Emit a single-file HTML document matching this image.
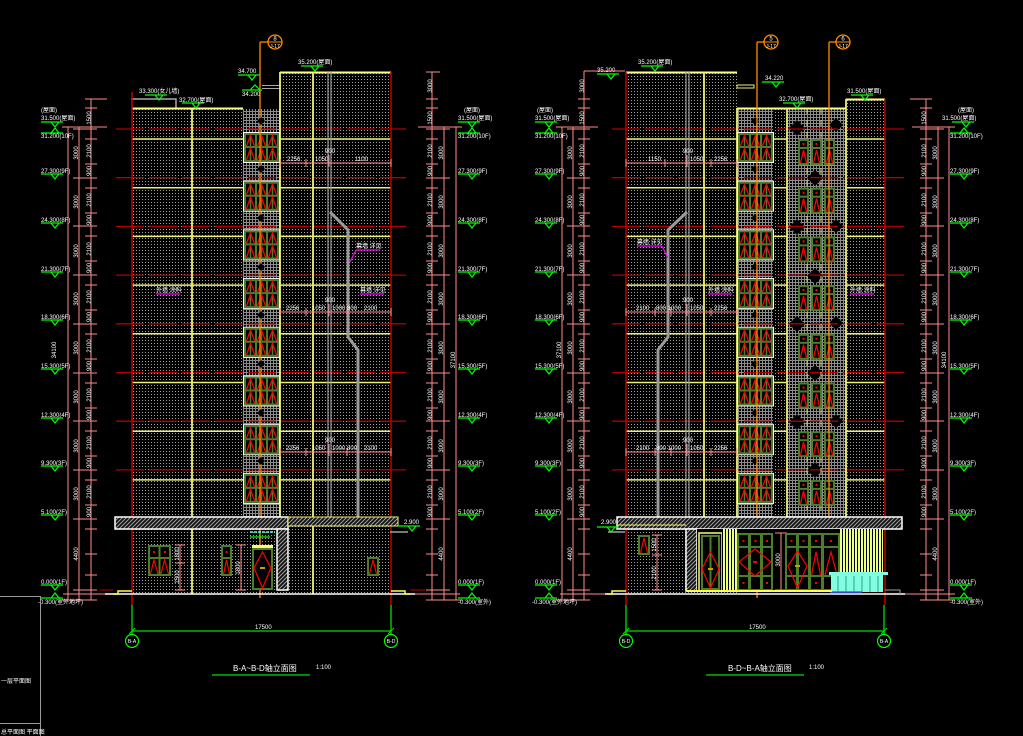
<!DOCTYPE html>
<html><head><meta charset="utf-8">
<style>
html,body{margin:0;padding:0;background:#000;}
svg{display:block;}
.t{fill:#fff;font-size:6.5px;font-family:"Liberation Sans","Noto Sans CJK SC",sans-serif;}
.s{fill:#fff;font-size:6px;font-family:"Liberation Sans","Noto Sans CJK SC",sans-serif;}
.v{fill:#fff;font-size:6px;font-family:"Liberation Sans",sans-serif;text-anchor:middle;}
.ttl{fill:#fff;font-size:8px;font-family:"Liberation Sans","Noto Sans CJK SC",sans-serif;}
.ax{fill:#fff;font-size:5px;font-family:"Liberation Sans",sans-serif;text-anchor:middle;}
</style></head>
<body>
<svg width="1023" height="736" viewBox="0 0 1023 736" xmlns="http://www.w3.org/2000/svg" xmlns:xlink="http://www.w3.org/1999/xlink">
<defs>
<pattern id="dots" width="3" height="3" patternUnits="userSpaceOnUse"><rect x="1" y="1" width="1" height="1" fill="#a0a0a0"/></pattern>
<pattern id="hatch" width="3" height="3" patternUnits="userSpaceOnUse"><rect width="3" height="3" fill="#000"/><path d="M0 .5H3M.5 0V3" stroke="#8c8c8c" stroke-width="1"/></pattern>
<pattern id="diag" width="4" height="4" patternUnits="userSpaceOnUse"><rect width="4" height="4" fill="#111"/><path d="M0 4L4 0M-1 1L1 -1M3 5L5 3" stroke="#a0a0a0" stroke-width="1"/></pattern>
<pattern id="ys" width="3" height="3" patternUnits="userSpaceOnUse"><rect width="3" height="3" fill="#000"/><rect width="2" height="3" fill="#e8ff88"/></pattern>
<g id="sw">
<rect x="0.5" y="0.5" width="36" height="30" fill="#000" stroke="#fff" stroke-width="1"/>
<path d="M1 1h35v2H1zM1 14h35v2H1zM1 28h35v2H1zM1 1h2v29H1zM12 1h2v29h-2zM23 1h2v29h-2zM34 1h2v29h-2z" fill="#4b7d2b"/>
<path d="M7.5 4v10M18.5 4v10M29.5 4v10M7.5 17v11M18.5 17v11M29.5 17v11" stroke="#4b7d2b" stroke-width="1.5"/>
<path d="M3.5 14L7.5 3.5L11.5 14M14.5 14L18.5 3.5L22.5 14M25.5 14L29.5 3.5L33.5 14M3.5 28L7.5 16.5L11.5 28M14.5 28L18.5 16.5L22.5 28M25.5 28L29.5 16.5L33.5 28" stroke="#ff0000" stroke-width="1.3" fill="none"/>
</g>
<g id="mw">
<rect x="0" y="0" width="11" height="26" fill="#4b7d2b"/>
<rect x="2" y="2" width="7" height="6" fill="#000"/>
<rect x="4.5" y="4" width="2" height="2" fill="#f00"/>
<rect x="2" y="10" width="7" height="14" fill="#000"/>
<path d="M2.5 24L5.5 11L8.5 24" stroke="#f00" stroke-width="1.3" fill="none"/>
</g>
<g id="lm"><path d="M0 0h22M10 0l4 5l4-5" stroke="#00ff00" stroke-width="1.2" fill="none"/></g>
<g id="dOut"><path d="M6 99V600M0 99h12M0 108h12M0 129h12M0 139h12M0 164h12M0 178h12M0 188h12M0 213h12M0 226h12M0 236h12M0 261h12M0 275h12M0 285h12M0 310h12M0 324h12M0 334h12M0 359h12M0 373h12M0 383h12M0 408h12M0 421h12M0 431h12M0 456h12M0 470h12M0 480h12M0 505h12M0 519h12M0 529h12M0 554h12M0 575h12M0 590h12M0 600h12" stroke="#ff8c8c" stroke-width="1" fill="none"/></g>
<g id="dMid"><path d="M6 127V600M0 129h12M0 178h12M0 226h12M0 275h12M0 324h12M0 373h12M0 421h12M0 470h12M0 519h12M0 590h12M0 600h12" stroke="#ff8c8c" stroke-width="1" fill="none"/></g>
<g id="dFar"><path d="M6 127V600M0 127h12M0 600h12" stroke="#ff8c8c" stroke-width="1" fill="none"/></g>
</defs>
<rect width="1023" height="736" fill="#000"/>

<!-- ================= LEFT ELEVATION ================= -->
<rect x="132" y="108" width="111" height="486" fill="url(#dots)"/>
<rect x="280" y="72" width="111" height="522" fill="url(#dots)"/>
<rect x="243" y="109" width="37" height="408" fill="url(#hatch)"/>
<rect x="243" y="529" width="37" height="65" fill="url(#dots)"/>
<path d="M116 129H406M116 177.7H406M116 226.4H406M116 275.1H406M116 323.8H406M116 372.5H406M116 421.2H406M116 469.9H406" stroke="#b00000" stroke-width="1.3" stroke-dasharray="28 5" fill="none"/>
<path d="M131 99H176V108" stroke="#a8a8a8" stroke-width="1.5" fill="none"/>
<path d="M262 85.5H280M262 88.5H280" stroke="#a8a8a8" stroke-width="1" fill="none"/>
<path d="M132 108.5H243M280 72.5H391" stroke="#ffff80" stroke-width="2" fill="none"/>
<path d="M132 139H243M280 139H391M132 187.7H243M280 187.7H391M132 236.4H243M280 236.4H391M132 285.1H243M280 285.1H391M132 333.8H243M280 333.8H391M132 382.5H243M280 382.5H391M132 431.2H243M280 431.2H391M132 479.9H243M280 479.9H391" stroke="#e8f070" stroke-width="1.5" fill="none"/>
<path d="M192 108V594M313 72V594M280 72V517" stroke="#f0f070" stroke-width="1.8" fill="none"/>
<path d="M132 92V605M391 72V605" stroke="#c00000" stroke-width="1.5" fill="none"/>
<path d="M328 72V517M331 72V517" stroke="#9a9a9a" stroke-width="1.2" fill="none"/>
<path d="M330 212L348 230V337L358 350V517" stroke="#9a9a9a" stroke-width="3" fill="none"/>
<use xlink:href="#sw" x="243" y="132"/>
<use xlink:href="#sw" x="243" y="180.7"/>
<use xlink:href="#sw" x="243" y="229.4"/>
<use xlink:href="#sw" x="243" y="278.1"/>
<use xlink:href="#sw" x="243" y="326.8"/>
<use xlink:href="#sw" x="243" y="375.5"/>
<use xlink:href="#sw" x="243" y="424.2"/>
<use xlink:href="#sw" x="243" y="472.9"/>
<path d="M280 163H391M280 159v8M306 159v8M329 155v12M391 159v8M280 312H391M280 308v8M306 308v8M329 304v12M347 308v8M391 308v8M280 452H391M280 448v8M306 448v8M329 444v12M347 448v8M391 448v8" stroke="#ff8c8c" stroke-width="1" fill="none"/>
<text class="s" x="287" y="161">2256</text><text class="s" x="315" y="161">1050</text><text class="s" x="355" y="161">1100</text><text class="s" x="325" y="153">900</text>
<text class="s" x="286" y="310">2256</text><text class="s" x="312" y="310">1050</text><text class="s" x="332" y="310">1000 800</text><text class="s" x="364" y="310">2100</text><text class="s" x="325" y="302">900</text>
<text class="s" x="286" y="450">2256</text><text class="s" x="312" y="450">1050</text><text class="s" x="332" y="450">1000 800</text><text class="s" x="364" y="450">2100</text><text class="s" x="325" y="442">900</text>
<text class="s" x="356" y="248">幕墙 详见</text><path d="M356 250H380M356 250L350 262" stroke="#ff00ff" stroke-width="1.2" fill="none"/>
<text class="s" x="360" y="292">幕墙 详见</text><path d="M360 294H384" stroke="#ff00ff" stroke-width="1.2"/>
<text class="s" x="156" y="292">外墙 涂料</text><path d="M156 294H180" stroke="#ff00ff" stroke-width="1.2"/>
<path d="M260 42H268M260 42V598" stroke="#ff8c00" stroke-width="1.3" fill="none"/>
<circle cx="275" cy="42" r="7" fill="#000" stroke="#ff8c00" stroke-width="1.3"/>
<path d="M268 42H282" stroke="#ff8c00" stroke-width="1"/>
<text class="ax" x="275" y="40.5" style="font-size:6px">8</text><text class="ax" x="275" y="48">J-17</text>
<use xlink:href="#lm" x="145" y="95"/><text class="s" x="139" y="93">33.300(女儿墙)</text>
<use xlink:href="#lm" x="182" y="103"/><text class="s" x="179" y="102">32.700(屋面)</text>
<use xlink:href="#lm" x="238" y="75"/><text class="s" x="238" y="73">34.700</text>
<path d="M242 90H262M250 90l5-5l5 5" stroke="#00ff00" stroke-width="1.2" fill="none"/><text class="s" x="242" y="96">34.200</text>
<use xlink:href="#lm" x="301" y="66"/><text class="s" x="298" y="64">35.200(屋面)</text>
<rect x="115" y="517" width="173" height="12" fill="url(#diag)" stroke="#fff" stroke-width="1.5"/>
<rect x="288" y="517" width="110" height="9" fill="url(#diag)" stroke="#f0f070" stroke-width="1"/>
<rect x="277" y="529" width="11" height="61" fill="url(#diag)" stroke="#fff" stroke-width="1.5"/>
<use xlink:href="#lm" x="398" y="526"/><text class="s" x="404" y="524">2.900</text>
<path d="M390 532H408" stroke="#a0a0a0" stroke-width="1.5"/>
<path d="M250 532H275" stroke="#60ffe0" stroke-width="1.5" stroke-dasharray="3 1"/><path d="M250 537H270" stroke="#00ff00" stroke-width="1.2"/>
<rect x="148" y="545" width="23" height="31" fill="#4b7d2b"/>
<rect x="150" y="547" width="8.5" height="10" fill="#000"/><rect x="160.5" y="547" width="8.5" height="10" fill="#000"/>
<rect x="150" y="559" width="8.5" height="15" fill="#000"/><rect x="160.5" y="559" width="8.5" height="15" fill="#000"/>
<rect x="153" y="551" width="2" height="2" fill="#f00"/><rect x="164" y="551" width="2" height="2" fill="#f00"/>
<path d="M150.5 574L154 560L158 574M161 574L164.5 560L168.5 574" stroke="#f00" stroke-width="1.2" fill="none"/>
<rect x="221" y="545" width="11" height="31" fill="#4b7d2b"/>
<rect x="223" y="547" width="7" height="10" fill="#000"/><rect x="223" y="559" width="7" height="15" fill="#000"/>
<rect x="225.5" y="551" width="2" height="2" fill="#f00"/>
<path d="M223.5 574L226.5 560L229.5 574" stroke="#f00" stroke-width="1.2" fill="none"/>
<rect x="252" y="545" width="21" height="3" fill="#ffff60"/>
<rect x="252" y="548" width="21" height="42" fill="#4b7d2b"/>
<rect x="254" y="550" width="17" height="38" fill="#000"/>
<path d="M262.5 552L271 568L262.5 588L254 568Z" stroke="#f00" stroke-width="1.2" fill="none"/>
<rect x="260" y="567" width="5" height="2" fill="#d0a000"/>
<rect x="367" y="557" width="12" height="19" fill="#4b7d2b"/>
<rect x="369" y="559" width="8" height="15" fill="#000"/>
<path d="M369.5 574L373 560L376.5 574" stroke="#f00" stroke-width="1.2" fill="none"/>
<path d="M180 545V590M175 545h10M175 563h10M175 590h10M241 545V590M236 545h10M236 590h10" stroke="#ff8c8c" stroke-width="1" fill="none"/>
<text class="v" transform="translate(179,554) rotate(-90)">1800</text>
<text class="v" transform="translate(179,577) rotate(-90)">1500</text>
<text class="v" transform="translate(240,568) rotate(-90)">1800</text>
<path d="M105 594H415" stroke="#fff" stroke-width="1.5"/>
<path d="M63 594H105M415 594H460" stroke="#ff8c8c" stroke-width="1"/>
<path d="M113 594H118V591H132M391 591H405V594H410" stroke="#ffff40" stroke-width="1.5" fill="none"/>
<path d="M100 590H113M410 590H425" stroke="#c00000" stroke-width="1"/>
<use xlink:href="#dFar" x="62" y="0"/>
<use xlink:href="#dMid" x="73" y="0"/>
<use xlink:href="#dOut" x="85" y="0"/>
<path d="M86 99H107M63 127H107" stroke="#ff8c8c" stroke-width="1" fill="none"/>
<use xlink:href="#dOut" x="426" y="0"/>
<use xlink:href="#dMid" x="438" y="0"/>
<use xlink:href="#dFar" x="450" y="0"/>
<path d="M432 72V99M426 72h14M418 127H460" stroke="#ff8c8c" stroke-width="1" fill="none"/>
<g>
<text class="v" transform="translate(78,153) rotate(-90)">3000</text><text class="v" transform="translate(78,202) rotate(-90)">3000</text><text class="v" transform="translate(78,251) rotate(-90)">3000</text><text class="v" transform="translate(78,299) rotate(-90)">3000</text><text class="v" transform="translate(78,348) rotate(-90)">3000</text><text class="v" transform="translate(78,397) rotate(-90)">3000</text><text class="v" transform="translate(78,446) rotate(-90)">3000</text><text class="v" transform="translate(78,494) rotate(-90)">3000</text><text class="v" transform="translate(78,554) rotate(-90)">4400</text>
<text class="v" transform="translate(91,151) rotate(-90)">2100</text><text class="v" transform="translate(91,200) rotate(-90)">2100</text><text class="v" transform="translate(91,249) rotate(-90)">2100</text><text class="v" transform="translate(91,297) rotate(-90)">2100</text><text class="v" transform="translate(91,346) rotate(-90)">2100</text><text class="v" transform="translate(91,395) rotate(-90)">2100</text><text class="v" transform="translate(91,443) rotate(-90)">2100</text><text class="v" transform="translate(91,492) rotate(-90)">2100</text>
<text class="v" transform="translate(91,171) rotate(-90)">900</text><text class="v" transform="translate(91,220) rotate(-90)">900</text><text class="v" transform="translate(91,268) rotate(-90)">900</text><text class="v" transform="translate(91,317) rotate(-90)">900</text><text class="v" transform="translate(91,366) rotate(-90)">900</text><text class="v" transform="translate(91,415) rotate(-90)">900</text><text class="v" transform="translate(91,463) rotate(-90)">900</text><text class="v" transform="translate(91,512) rotate(-90)">900</text>
<text class="v" transform="translate(91,118) rotate(-90)">1500</text><text class="v" transform="translate(56,350) rotate(-90)">34100</text>
</g>
<g>
<text class="v" transform="translate(443,153) rotate(-90)">3000</text><text class="v" transform="translate(443,202) rotate(-90)">3000</text><text class="v" transform="translate(443,251) rotate(-90)">3000</text><text class="v" transform="translate(443,299) rotate(-90)">3000</text><text class="v" transform="translate(443,348) rotate(-90)">3000</text><text class="v" transform="translate(443,397) rotate(-90)">3000</text><text class="v" transform="translate(443,446) rotate(-90)">3000</text><text class="v" transform="translate(443,494) rotate(-90)">3000</text><text class="v" transform="translate(443,554) rotate(-90)">4400</text>
<text class="v" transform="translate(432,151) rotate(-90)">2100</text><text class="v" transform="translate(432,200) rotate(-90)">2100</text><text class="v" transform="translate(432,249) rotate(-90)">2100</text><text class="v" transform="translate(432,297) rotate(-90)">2100</text><text class="v" transform="translate(432,346) rotate(-90)">2100</text><text class="v" transform="translate(432,395) rotate(-90)">2100</text><text class="v" transform="translate(432,443) rotate(-90)">2100</text><text class="v" transform="translate(432,492) rotate(-90)">2100</text>
<text class="v" transform="translate(432,171) rotate(-90)">900</text><text class="v" transform="translate(432,220) rotate(-90)">900</text><text class="v" transform="translate(432,268) rotate(-90)">900</text><text class="v" transform="translate(432,317) rotate(-90)">900</text><text class="v" transform="translate(432,366) rotate(-90)">900</text><text class="v" transform="translate(432,415) rotate(-90)">900</text><text class="v" transform="translate(432,463) rotate(-90)">900</text><text class="v" transform="translate(432,512) rotate(-90)">900</text>
<text class="v" transform="translate(432,86) rotate(-90)">3000</text><text class="v" transform="translate(432,118) rotate(-90)">1500</text><text class="v" transform="translate(455,360) rotate(-90)">37100</text>
</g>
<g>
<text class="s" x="41" y="112">(屋面)</text><text class="s" x="41" y="120">31.500(屋面)</text><use xlink:href="#lm" x="41" y="122"/>
<text class="s" x="41" y="138">31.200(10F)</text><path d="M41 133h22M51 133l4-5l4 5" stroke="#00ff00" stroke-width="1.2" fill="none"/>
<text class="s" x="41" y="173">27.300(9F)</text><use xlink:href="#lm" x="41" y="174"/>
<text class="s" x="41" y="222">24.300(8F)</text><use xlink:href="#lm" x="41" y="223"/>
<text class="s" x="41" y="271">21.300(7F)</text><use xlink:href="#lm" x="41" y="272"/>
<text class="s" x="41" y="319">18.300(6F)</text><use xlink:href="#lm" x="41" y="320"/>
<text class="s" x="41" y="368">15.300(5F)</text><use xlink:href="#lm" x="41" y="369"/>
<text class="s" x="41" y="417">12.300(4F)</text><use xlink:href="#lm" x="41" y="418"/>
<text class="s" x="41" y="465">9.300(3F)</text><use xlink:href="#lm" x="41" y="466"/>
<text class="s" x="41" y="514">5.100(2F)</text><use xlink:href="#lm" x="41" y="515"/>
<text class="s" x="41" y="584">0.000(1F)</text><use xlink:href="#lm" x="41" y="585"/>
<text class="s" x="38" y="604">-0.300(室外地坪)</text><path d="M41 598h22M51 598l4-5l4 5" stroke="#00ff00" stroke-width="1.2" fill="none"/>
</g>
<g>
<text class="s" x="464" y="112">(屋面)</text><text class="s" x="458" y="120">31.500(屋面)</text><use xlink:href="#lm" x="458" y="122"/>
<text class="s" x="458" y="138">31.200(10F)</text><path d="M458 133h22M468 133l4-5l4 5" stroke="#00ff00" stroke-width="1.2" fill="none"/>
<text class="s" x="458" y="173">27.300(9F)</text><use xlink:href="#lm" x="458" y="174"/>
<text class="s" x="458" y="222">24.300(8F)</text><use xlink:href="#lm" x="458" y="223"/>
<text class="s" x="458" y="271">21.300(7F)</text><use xlink:href="#lm" x="458" y="272"/>
<text class="s" x="458" y="319">18.300(6F)</text><use xlink:href="#lm" x="458" y="320"/>
<text class="s" x="458" y="368">15.300(5F)</text><use xlink:href="#lm" x="458" y="369"/>
<text class="s" x="458" y="417">12.300(4F)</text><use xlink:href="#lm" x="458" y="418"/>
<text class="s" x="458" y="465">9.300(3F)</text><use xlink:href="#lm" x="458" y="466"/>
<text class="s" x="458" y="514">5.100(2F)</text><use xlink:href="#lm" x="458" y="515"/>
<text class="s" x="458" y="584">0.000(1F)</text><use xlink:href="#lm" x="458" y="585"/>
<text class="s" x="458" y="604">-0.300(室外)</text><path d="M458 598h22M468 598l4-5l4 5" stroke="#00ff00" stroke-width="1.2" fill="none"/>
</g>
<path d="M132 605V634M391 605V634M132 631H391" stroke="#00e000" stroke-width="1.3" fill="none"/>
<path d="M129 634l6-6M388 634l6-6" stroke="#00e000" stroke-width="1"/>
<circle cx="132" cy="641" r="6.5" fill="#000" stroke="#00ff00" stroke-width="1.2"/><text class="ax" x="132" y="643">B-A</text>
<circle cx="391" cy="641" r="6.5" fill="#000" stroke="#00ff00" stroke-width="1.2"/><text class="ax" x="391" y="643">B-D</text>
<text class="s" x="255" y="629">17500</text>
<text class="ttl" x="233" y="671">B-A~B-D轴立面图</text><text class="s" x="316" y="669">1:100</text>
<path d="M212 675H310" stroke="#00e000" stroke-width="1.3"/>

<!-- ================= RIGHT ELEVATION ================= -->
<rect x="626" y="72" width="111" height="522" fill="url(#dots)"/>
<rect x="737" y="108" width="36" height="409" fill="url(#hatch)"/>
<rect x="773" y="108" width="73" height="409" fill="url(#hatch)"/>
<rect x="773" y="108" width="14" height="409" fill="#000"/>
<rect x="773" y="108" width="14" height="409" fill="url(#dots)"/>
<rect x="846" y="99" width="39" height="418" fill="url(#dots)"/>
<g fill="#000">
<path d="M797 120l8 8l-8 8l-8-8zM836 118l7 7l-7 7l-7-7zM815 170l8 8l-8 8l-8-8zM797 219l8 8l-8 8l-8-8zM836 219l7 7l-7 7l-7-7zM815 268l8 8l-8 8l-8-8zM797 316l8 8l-8 8l-8-8zM836 316l7 7l-7 7l-7-7zM815 365l8 8l-8 8l-8-8zM797 414l8 8l-8 8l-8-8zM836 414l7 7l-7 7l-7-7zM815 462l8 8l-8 8l-8-8z"/>
<path d="M755 117l4 4l-4 4l-4-4zM755 165l4 4l-4 4l-4-4zM755 214l4 4l-4 4l-4-4zM755 263l4 4l-4 4l-4-4zM755 311l4 4l-4 4l-4-4zM755 360l4 4l-4 4l-4-4zM755 409l4 4l-4 4l-4-4zM755 457l4 4l-4 4l-4-4z"/>
<path d="M261 117l4 4l-4 4l-4-4zM261 165l4 4l-4 4l-4-4zM261 214l4 4l-4 4l-4-4zM261 263l4 4l-4 4l-4-4zM261 311l4 4l-4 4l-4-4zM261 360l4 4l-4 4l-4-4zM261 409l4 4l-4 4l-4-4zM261 457l4 4l-4 4l-4-4z"/>
</g>
<path d="M612 129H905M612 177.7H905M612 226.4H905M612 275.1H905M612 323.8H905M612 372.5H905M612 421.2H905M612 469.9H905" stroke="#b00000" stroke-width="1.3" stroke-dasharray="28 5" fill="none"/>
<path d="M626 72.5H737M737 108.5H846M846 99.5H885" stroke="#ffff80" stroke-width="2" fill="none"/>
<rect x="737" y="85" width="17" height="3" fill="none" stroke="#f0f070" stroke-width="1"/>
<path d="M626 139H737M773 139H787M846 139H885M626 187.7H737M773 187.7H787M846 187.7H885M626 236.4H737M773 236.4H787M846 236.4H885M626 285.1H737M773 285.1H787M846 285.1H885M626 333.8H737M773 333.8H787M846 333.8H885M626 382.5H737M773 382.5H787M846 382.5H885M626 431.2H737M773 431.2H787M846 431.2H885M626 479.9H737M773 479.9H787M846 479.9H885" stroke="#e8f070" stroke-width="1.5" fill="none"/>
<path d="M704 72V517M737 108V517M787 108V517M846 99V517" stroke="#f0f070" stroke-width="1.8" fill="none"/>
<path d="M807 108V517M821 108V517" stroke="#d8e070" stroke-width="1" stroke-dasharray="6 6" fill="none"/>
<path d="M626 72V605M885 99V605" stroke="#c00000" stroke-width="1.5" fill="none"/>
<path d="M686 72V517M689 72V517" stroke="#9a9a9a" stroke-width="1.2" fill="none"/>
<path d="M687 212L668 230V337L658 350V517" stroke="#9a9a9a" stroke-width="3" fill="none"/>
<use xlink:href="#sw" x="737" y="132"/>
<use xlink:href="#sw" x="737" y="180.7"/>
<use xlink:href="#sw" x="737" y="229.4"/>
<use xlink:href="#sw" x="737" y="278.1"/>
<use xlink:href="#sw" x="737" y="326.8"/>
<use xlink:href="#sw" x="737" y="375.5"/>
<use xlink:href="#sw" x="737" y="424.2"/>
<use xlink:href="#sw" x="737" y="472.9"/>
<g>
<use xlink:href="#mw" x="798" y="139"/><use xlink:href="#mw" x="811" y="139"/><use xlink:href="#mw" x="824" y="139"/>
<use xlink:href="#mw" x="798" y="187.7"/><use xlink:href="#mw" x="811" y="187.7"/><use xlink:href="#mw" x="824" y="187.7"/>
<use xlink:href="#mw" x="798" y="236.4"/><use xlink:href="#mw" x="811" y="236.4"/><use xlink:href="#mw" x="824" y="236.4"/>
<use xlink:href="#mw" x="798" y="285.1"/><use xlink:href="#mw" x="811" y="285.1"/><use xlink:href="#mw" x="824" y="285.1"/>
<use xlink:href="#mw" x="798" y="333.8"/><use xlink:href="#mw" x="811" y="333.8"/><use xlink:href="#mw" x="824" y="333.8"/>
<use xlink:href="#mw" x="798" y="382.5"/><use xlink:href="#mw" x="811" y="382.5"/><use xlink:href="#mw" x="824" y="382.5"/>
<use xlink:href="#mw" x="798" y="431.2"/><use xlink:href="#mw" x="811" y="431.2"/><use xlink:href="#mw" x="824" y="431.2"/>
<use xlink:href="#mw" x="798" y="479.9"/><use xlink:href="#mw" x="811" y="479.9"/><use xlink:href="#mw" x="824" y="479.9"/>
</g>
<path d="M626 163H737M626 159v8M665 159v8M687 155v12M711 159v8M737 159v8M626 312H737M626 308v8M655 308v8M671 308v8M687 304v12M711 308v8M737 308v8M626 452H737M626 448v8M655 448v8M671 448v8M687 444v12M711 448v8M737 448v8" stroke="#ff8c8c" stroke-width="1" fill="none"/>
<text class="s" x="648" y="161">1150</text><text class="s" x="690" y="161">1050</text><text class="s" x="714" y="161">2256</text><text class="s" x="683" y="153">900</text>
<text class="s" x="636" y="310">2100</text><text class="s" x="656" y="310">800 1000</text><text class="s" x="690" y="310">1050</text><text class="s" x="714" y="310">2256</text><text class="s" x="683" y="302">900</text>
<text class="s" x="636" y="450">2100</text><text class="s" x="656" y="450">800 1000</text><text class="s" x="690" y="450">1050</text><text class="s" x="714" y="450">2256</text><text class="s" x="683" y="442">900</text>
<text class="s" x="637" y="244">幕墙 详见</text><path d="M637 246H662M662 246L668 258" stroke="#ff00ff" stroke-width="1.2" fill="none"/>
<text class="s" x="708" y="292">外墙 涂料</text><path d="M708 294H732" stroke="#ff00ff" stroke-width="1.2"/>
<text class="s" x="850" y="292">外墙 涂料</text><path d="M850 294H874" stroke="#ff00ff" stroke-width="1.2"/>
<path d="M757 42H764M757 42V598M829 42H836M829 42V530" stroke="#ff8c00" stroke-width="1.3" fill="none"/>
<circle cx="771" cy="42" r="7" fill="#000" stroke="#ff8c00" stroke-width="1.3"/><path d="M764 42H778" stroke="#ff8c00" stroke-width="1"/>
<text class="ax" x="771" y="40.5" style="font-size:6px">5</text><text class="ax" x="771" y="48">J-17</text>
<circle cx="843" cy="42" r="7" fill="#000" stroke="#ff8c00" stroke-width="1.3"/><path d="M836 42H850" stroke="#ff8c00" stroke-width="1"/>
<text class="ax" x="843" y="40.5" style="font-size:6px">6</text><text class="ax" x="843" y="48">J-17</text>
<use xlink:href="#lm" x="597" y="74"/><text class="s" x="597" y="72">35.200</text>
<use xlink:href="#lm" x="641" y="66"/><text class="s" x="638" y="64">35.200(屋面)</text>
<use xlink:href="#lm" x="762" y="82"/><text class="s" x="765" y="80">34.220</text>
<use xlink:href="#lm" x="783" y="103"/><text class="s" x="779" y="101">32.700(屋面)</text>
<use xlink:href="#lm" x="851" y="95"/><text class="s" x="847" y="93">31.500(屋面)</text>
<rect x="617" y="517" width="285" height="12" fill="url(#diag)" stroke="#fff" stroke-width="1.5"/>
<path d="M618 525H686" stroke="#f0f070" stroke-width="1"/>
<rect x="686" y="529" width="11" height="62" fill="url(#diag)" stroke="#fff" stroke-width="1.5"/>
<use xlink:href="#lm" x="597" y="527"/><text class="s" x="601" y="524">2.900</text>
<path d="M608 532H625" stroke="#a0a0a0" stroke-width="1.5"/>
<rect x="638" y="535" width="12" height="20" fill="#4b7d2b"/><rect x="640" y="537" width="8" height="16" fill="#000"/>
<path d="M640.5 553L644 538L647.5 553" stroke="#f00" stroke-width="1.2" fill="none"/>
<path d="M657 535V590M652 535h10M652 555h10M652 590h10" stroke="#ff8c8c" stroke-width="1" fill="none"/>
<text class="v" transform="translate(656,545) rotate(-90)">1500</text><text class="v" transform="translate(656,573) rotate(-90)">2100</text>
<rect x="697" y="529" width="186" height="63" fill="#000"/>
<rect x="699" y="533" width="23" height="58" fill="none" stroke="#ffff60" stroke-width="1.5"/>
<rect x="701" y="535" width="19" height="55" fill="#4b7d2b"/>
<rect x="703" y="537" width="6.5" height="51" fill="#000"/><rect x="711.5" y="537" width="6.5" height="51" fill="#000"/>
<path d="M710.5 552L719 569L710.5 588L702 569Z" fill="none" stroke="#f00" stroke-width="1.2"/>
<rect x="708" y="568" width="5" height="2" fill="#c8a000"/>
<rect x="722" y="529" width="15" height="62" fill="url(#ys)"/>
<rect x="737" y="533" width="36" height="58" fill="#4b7d2b"/>
<g fill="#000">
<rect x="739" y="535" width="9" height="11"/><rect x="751" y="535" width="9" height="11"/><rect x="763" y="535" width="8" height="11"/>
<rect x="739" y="548" width="9" height="27"/><rect x="751" y="548" width="9" height="27"/><rect x="763" y="548" width="8" height="27"/>
<rect x="739" y="577" width="9" height="12"/><rect x="751" y="577" width="9" height="12"/><rect x="763" y="577" width="8" height="12"/>
</g>
<g fill="#f00"><rect x="742.5" y="540" width="2" height="2"/><rect x="754.5" y="540" width="2" height="2"/><rect x="766" y="540" width="2" height="2"/><rect x="742.5" y="582" width="2" height="2"/><rect x="766" y="582" width="2" height="2"/></g>
<path d="M755 549L771 562L755 576L739 562Z" fill="none" stroke="#f00" stroke-width="1.2"/>
<rect x="753" y="561" width="4" height="2" fill="#f00"/>
<path d="M781 533V590M775 533h12M775 590h12" stroke="#ff8c8c" stroke-width="1" fill="none"/>
<text class="v" transform="translate(780,560) rotate(-90)">3000</text>
<rect x="785" y="533" width="55" height="58" fill="#4b7d2b"/>
<g fill="#000">
<rect x="787" y="535" width="9" height="11"/><rect x="799" y="535" width="9" height="11"/><rect x="811" y="535" width="10" height="11"/><rect x="824" y="535" width="14" height="11"/>
<rect x="787" y="548" width="9" height="27"/><rect x="799" y="548" width="9" height="27"/><rect x="811" y="548" width="10" height="27"/><rect x="824" y="548" width="14" height="27"/>
<rect x="787" y="577" width="9" height="12"/><rect x="799" y="577" width="9" height="12"/><rect x="811" y="577" width="10" height="12"/><rect x="824" y="577" width="14" height="12"/>
</g>
<g fill="#f00"><rect x="790.5" y="540" width="2" height="2"/><rect x="802.5" y="540" width="2" height="2"/><rect x="815" y="540" width="2" height="2"/><rect x="830" y="540" width="2" height="2"/><rect x="815" y="582" width="2" height="2"/></g>
<path d="M797.5 551L807 566L797.5 588L788 566ZM811.5 575L816 552L820.5 575M825 575L831 552L837 575" fill="none" stroke="#f00" stroke-width="1.2"/>
<rect x="795" y="565" width="5" height="2" fill="#c8a000"/>
<rect x="840" y="529" width="43" height="62" fill="url(#ys)"/>
<rect x="831" y="575" width="52" height="17" fill="#7fffe0"/>
<rect x="829" y="572" width="59" height="3" fill="#7fffe0"/>
<path d="M838 576V592M846 576V592M854 576V592M862 576V592M870 576V592M878 576V592" stroke="#30a090" stroke-width="1"/>
<path d="M830 592H862" stroke="#4060ff" stroke-width="1.5"/>
<path d="M686 591H832" stroke="#ffff40" stroke-width="2"/>
<path d="M605 594H905" stroke="#fff" stroke-width="1.5"/>
<path d="M560 594H605M905 594H955" stroke="#ff8c8c" stroke-width="1"/>
<path d="M607 594H612V591H626" stroke="#ffff40" stroke-width="1.5" fill="none"/>
<path d="M885 590H900V594" stroke="#a0a0a0" stroke-width="1" fill="none"/>
<use xlink:href="#dFar" x="556" y="0"/>
<use xlink:href="#dMid" x="567" y="0"/>
<use xlink:href="#dOut" x="578" y="0"/>
<path d="M584 71V99M584 71H625M557 127H598" stroke="#ff8c8c" stroke-width="1" fill="none"/>
<use xlink:href="#dOut" x="920" y="0"/>
<use xlink:href="#dMid" x="932" y="0"/>
<use xlink:href="#dFar" x="943" y="0"/>
<path d="M910 99H930M912 127H955" stroke="#ff8c8c" stroke-width="1" fill="none"/>
<g>
<text class="v" transform="translate(572,153) rotate(-90)">3000</text><text class="v" transform="translate(572,202) rotate(-90)">3000</text><text class="v" transform="translate(572,251) rotate(-90)">3000</text><text class="v" transform="translate(572,299) rotate(-90)">3000</text><text class="v" transform="translate(572,348) rotate(-90)">3000</text><text class="v" transform="translate(572,397) rotate(-90)">3000</text><text class="v" transform="translate(572,446) rotate(-90)">3000</text><text class="v" transform="translate(572,494) rotate(-90)">3000</text><text class="v" transform="translate(572,554) rotate(-90)">4400</text>
<text class="v" transform="translate(584,151) rotate(-90)">2100</text><text class="v" transform="translate(584,200) rotate(-90)">2100</text><text class="v" transform="translate(584,249) rotate(-90)">2100</text><text class="v" transform="translate(584,297) rotate(-90)">2100</text><text class="v" transform="translate(584,346) rotate(-90)">2100</text><text class="v" transform="translate(584,395) rotate(-90)">2100</text><text class="v" transform="translate(584,443) rotate(-90)">2100</text><text class="v" transform="translate(584,492) rotate(-90)">2100</text>
<text class="v" transform="translate(584,171) rotate(-90)">900</text><text class="v" transform="translate(584,220) rotate(-90)">900</text><text class="v" transform="translate(584,268) rotate(-90)">900</text><text class="v" transform="translate(584,317) rotate(-90)">900</text><text class="v" transform="translate(584,366) rotate(-90)">900</text><text class="v" transform="translate(584,415) rotate(-90)">900</text><text class="v" transform="translate(584,463) rotate(-90)">900</text><text class="v" transform="translate(584,512) rotate(-90)">900</text>
<text class="v" transform="translate(584,86) rotate(-90)">3000</text><text class="v" transform="translate(584,118) rotate(-90)">1500</text><text class="v" transform="translate(561,350) rotate(-90)">37100</text>
</g>
<g>
<text class="v" transform="translate(937,153) rotate(-90)">3000</text><text class="v" transform="translate(937,202) rotate(-90)">3000</text><text class="v" transform="translate(937,251) rotate(-90)">3000</text><text class="v" transform="translate(937,299) rotate(-90)">3000</text><text class="v" transform="translate(937,348) rotate(-90)">3000</text><text class="v" transform="translate(937,397) rotate(-90)">3000</text><text class="v" transform="translate(937,446) rotate(-90)">3000</text><text class="v" transform="translate(937,494) rotate(-90)">3000</text><text class="v" transform="translate(937,554) rotate(-90)">4400</text>
<text class="v" transform="translate(926,151) rotate(-90)">2100</text><text class="v" transform="translate(926,200) rotate(-90)">2100</text><text class="v" transform="translate(926,249) rotate(-90)">2100</text><text class="v" transform="translate(926,297) rotate(-90)">2100</text><text class="v" transform="translate(926,346) rotate(-90)">2100</text><text class="v" transform="translate(926,395) rotate(-90)">2100</text><text class="v" transform="translate(926,443) rotate(-90)">2100</text><text class="v" transform="translate(926,492) rotate(-90)">2100</text>
<text class="v" transform="translate(926,171) rotate(-90)">900</text><text class="v" transform="translate(926,220) rotate(-90)">900</text><text class="v" transform="translate(926,268) rotate(-90)">900</text><text class="v" transform="translate(926,317) rotate(-90)">900</text><text class="v" transform="translate(926,366) rotate(-90)">900</text><text class="v" transform="translate(926,415) rotate(-90)">900</text><text class="v" transform="translate(926,463) rotate(-90)">900</text><text class="v" transform="translate(926,512) rotate(-90)">900</text>
<text class="v" transform="translate(926,118) rotate(-90)">1500</text><text class="v" transform="translate(946,360) rotate(-90)">34100</text>
</g>
<g>
<text class="s" x="537" y="112">(屋面)</text><text class="s" x="535" y="120">31.500(屋面)</text><use xlink:href="#lm" x="535" y="122"/>
<text class="s" x="535" y="138">31.200(10F)</text><path d="M535 133h22M545 133l4-5l4 5" stroke="#00ff00" stroke-width="1.2" fill="none"/>
<text class="s" x="535" y="173">27.300(9F)</text><use xlink:href="#lm" x="535" y="174"/>
<text class="s" x="535" y="222">24.300(8F)</text><use xlink:href="#lm" x="535" y="223"/>
<text class="s" x="535" y="271">21.300(7F)</text><use xlink:href="#lm" x="535" y="272"/>
<text class="s" x="535" y="319">18.300(6F)</text><use xlink:href="#lm" x="535" y="320"/>
<text class="s" x="535" y="368">15.300(5F)</text><use xlink:href="#lm" x="535" y="369"/>
<text class="s" x="535" y="417">12.300(4F)</text><use xlink:href="#lm" x="535" y="418"/>
<text class="s" x="535" y="465">9.300(3F)</text><use xlink:href="#lm" x="535" y="466"/>
<text class="s" x="535" y="514">5.100(2F)</text><use xlink:href="#lm" x="535" y="515"/>
<text class="s" x="535" y="584">0.000(1F)</text><use xlink:href="#lm" x="535" y="585"/>
<text class="s" x="532" y="604">-0.300(室外地坪)</text><path d="M535 598h22M545 598l4-5l4 5" stroke="#00ff00" stroke-width="1.2" fill="none"/>
</g>
<g>
<text class="s" x="958" y="112">(屋面)</text><text class="s" x="942" y="120">31.500(屋面)</text><use xlink:href="#lm" x="952" y="122"/>
<text class="s" x="950" y="138">31.200(10F)</text><path d="M950 133h22M960 133l4-5l4 5" stroke="#00ff00" stroke-width="1.2" fill="none"/>
<text class="s" x="950" y="173">27.300(9F)</text><use xlink:href="#lm" x="950" y="174"/>
<text class="s" x="950" y="222">24.300(8F)</text><use xlink:href="#lm" x="950" y="223"/>
<text class="s" x="950" y="271">21.300(7F)</text><use xlink:href="#lm" x="950" y="272"/>
<text class="s" x="950" y="319">18.300(6F)</text><use xlink:href="#lm" x="950" y="320"/>
<text class="s" x="950" y="368">15.300(5F)</text><use xlink:href="#lm" x="950" y="369"/>
<text class="s" x="950" y="417">12.300(4F)</text><use xlink:href="#lm" x="950" y="418"/>
<text class="s" x="950" y="465">9.300(3F)</text><use xlink:href="#lm" x="950" y="466"/>
<text class="s" x="950" y="514">5.100(2F)</text><use xlink:href="#lm" x="950" y="515"/>
<text class="s" x="950" y="584">0.000(1F)</text><use xlink:href="#lm" x="950" y="585"/>
<text class="s" x="950" y="604">-0.300(室外)</text><path d="M950 598h22M960 598l4-5l4 5" stroke="#00ff00" stroke-width="1.2" fill="none"/>
</g>
<path d="M626 605V634M884 605V634M626 631H884" stroke="#00e000" stroke-width="1.3" fill="none"/>
<path d="M623 634l6-6M881 634l6-6" stroke="#00e000" stroke-width="1"/>
<circle cx="626" cy="641" r="6.5" fill="#000" stroke="#00ff00" stroke-width="1.2"/><text class="ax" x="626" y="643">B-D</text>
<circle cx="884" cy="641" r="6.5" fill="#000" stroke="#00ff00" stroke-width="1.2"/><text class="ax" x="884" y="643">B-A</text>
<text class="s" x="749" y="629">17500</text>
<text class="ttl" x="728" y="671">B-D~B-A轴立面图</text><text class="s" x="809" y="669">1:100</text>
<path d="M706 675H804" stroke="#00e000" stroke-width="1.3"/>

<path d="M0 596.5H40.5V736M0 723.5H40.5" stroke="#9a9a9a" stroke-width="1" fill="none"/>
<text class="s" x="1" y="683">一层平面图</text>
<text class="s" x="1" y="734">总平面图 平面图</text>
</svg>
</body></html>
